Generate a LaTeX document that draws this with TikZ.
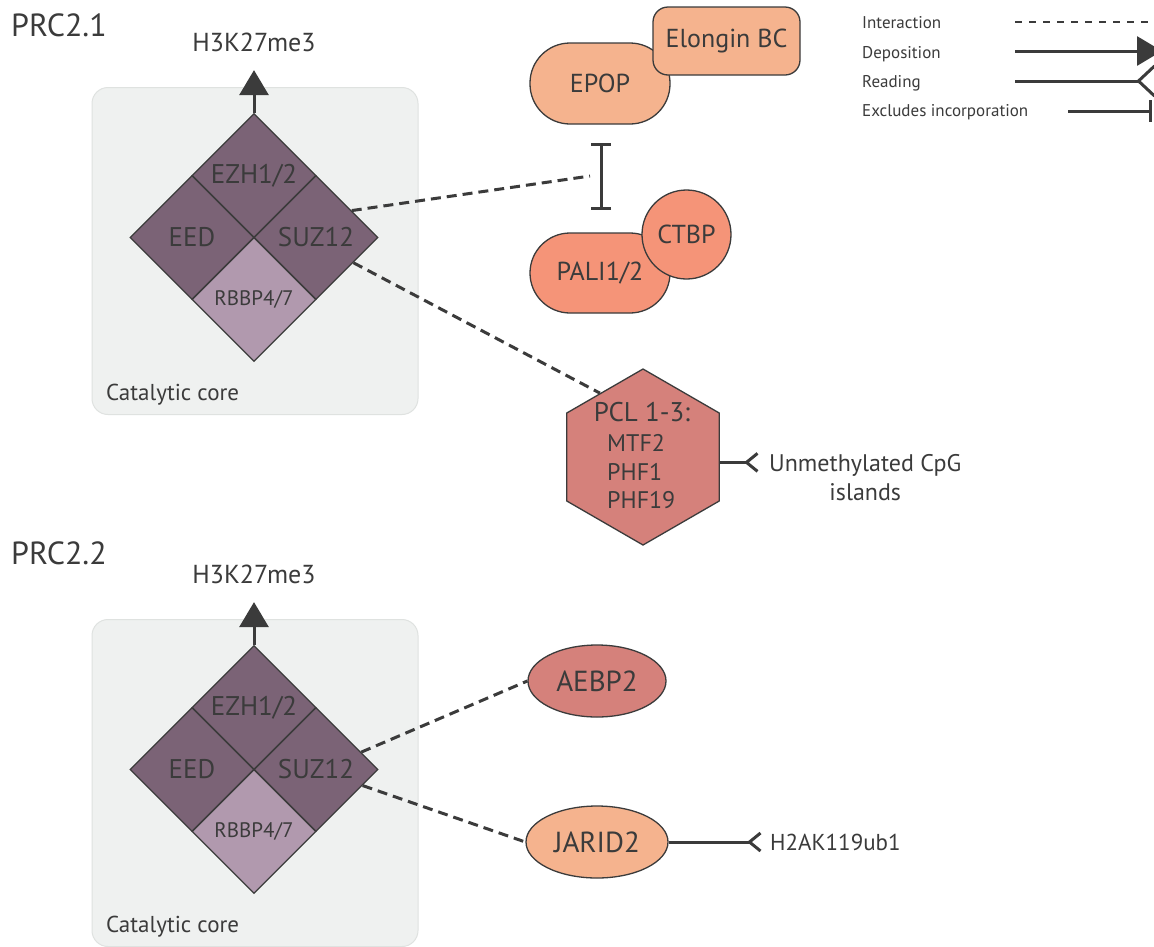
\documentclass[tikz,border=0pt]{standalone}
\usepackage{fontspec}
\setmainfont{PT Sans}
\usepackage{tikz}
\usetikzlibrary{positioning,arrows.meta,shapes.geometric}

\definecolor{ink}{HTML}{3B3B3B}
\definecolor{corefill}{HTML}{EFF1F0}
\definecolor{coreline}{HTML}{DFE2E0}
\definecolor{mauve}{HTML}{7B6376}
\definecolor{mauvelight}{HTML}{B199AE}
\definecolor{peach}{HTML}{F5B38E}
\definecolor{salmon}{HTML}{F59478}
\definecolor{rose}{HTML}{D5817B}

\tikzset{
  prccore/.pic={
    \path[corebox] (-162,-150) rectangle (164,177);
    \node[subunit] (-ezh) at (0,-62) {EZH1/2};
    \node[subunit] (-eed) at (-62,0) {EED};
    \node[subunit] (-suz) at (62,0) {SUZ12};
    \node[subunit,fill=mauvelight,font=\fontsize{21}{25}\selectfont] (-rbbp) at (0,62) {RBBP4/7};
    \node[modmark] (-mark) at (0,-195) {H3K27me3};
    \node[corelabel] (-core) at (-148,157) {Catalytic core};
    \draw[deposition,shorten >=18pt] (-ezh.north) -- (-mark.south);
  }
}

\begin{document}
\begin{tikzpicture}[
  x=1pt, y=-1pt,
  every node/.style={inner sep=0pt,text=ink},
  paneltitle/.style={anchor=west,font=\fontsize{32}{38}\selectfont},
  modmark/.style={font=\fontsize{26}{31}\selectfont},
  corelabel/.style={anchor=west,font=\fontsize{23}{27}\selectfont},
  legtext/.style={anchor=base west,font=\fontsize{17}{20}\selectfont},
  corebox/.style={fill=corefill,draw=coreline,line width=1pt,rounded corners=16pt},
  subunit/.style={diamond,draw=ink,line width=1.3pt,fill=mauve,
                  minimum width=124pt,minimum height=124pt,
                  font=\fontsize{27}{32}\selectfont},
  prot/.style={draw=ink,line width=1.3pt,font=\fontsize{26}{31}\selectfont},
  interaction/.style={ink,line width=3pt,dash pattern=on 10pt off 6pt},
  deposition/.style={ink,line width=3pt,-{Triangle[length=25pt,width=29pt]}},
  reading/.style={ink,line width=3pt,-{Straight Barb[reversed,length=11pt,width=18pt]}},
  exclusion/.style={ink,line width=3pt,{Bar[width=20pt]}-{Bar[width=20pt]}}
]
  \useasboundingbox[fill=white] (0,0) rectangle (1154,946);

  % PRC2.1
  \node[paneltitle] (t1) at (11,25) {PRC2.1};
  \pic (p1) at (254,237.5) {prccore};

  \node[prot,fill=peach,rounded corners=40pt,minimum width=140pt,minimum height=81pt] (epop) at (600,83.5) {EPOP};
  \node[prot,fill=peach,rounded corners=15pt,minimum width=147pt,minimum height=68pt] (elongin) at (726.5,41) {Elongin BC};
  \coordinate (excl-top) at (601,143);
  \coordinate (excl-bot) at (601,210);
  \coordinate (excl-mid) at (590,176);
  \draw[exclusion] (excl-top) -- (excl-bot);
  \node[prot,fill=salmon,rounded corners=40pt,minimum width=140pt,minimum height=80pt] (pali) at (600,273) {PALI1/2};
  \node[prot,circle,fill=salmon,minimum size=89pt] (ctbp) at (686.5,234.5) {CTBP};

  \node[prot,regular polygon,regular polygon sides=6,shape border rotate=30,
        minimum size=176pt,fill=rose] (pcl) at (643,457) {};
  \node[font=\fontsize{27}{32}\selectfont] (pcl-head) at (642,412) {PCL 1-3:};
  \node[anchor=west,align=left,font=\fontsize{24}{28.5}\selectfont] (pcl-list) at (607,472) {MTF2\\PHF1\\PHF19};
  \node[anchor=west,align=center,font=\fontsize{24}{29}\selectfont] (cpg) at (769,478) {Unmethylated CpG\\islands};

  \draw[interaction] (p1-suz.37) -- (excl-mid);
  \draw[interaction] (p1-suz.-34) -- (pcl.124);
  \draw[reading,shorten >=10pt] (pcl.-4) -- (pcl.-4 -| cpg.west);

  % PRC2.2
  \node[paneltitle] (t2) at (11,553) {PRC2.2};
  \pic (p2) at (254,769.5) {prccore};

  \node[prot,ellipse,fill=rose,minimum width=138pt,minimum height=72pt,font=\fontsize{29}{34}\selectfont] (aebp2) at (597,681) {AEBP2};
  \node[prot,ellipse,fill=peach,minimum width=142pt,minimum height=72pt,font=\fontsize{29}{34}\selectfont] (jarid2) at (597,842) {JARID2};
  \node[anchor=west,font=\fontsize{23}{28}\selectfont] (h2ak) at (770,842) {H2AK119ub1};

  \draw[interaction] (p2-suz.21) -- (aebp2.west);
  \draw[interaction] (p2-suz.-19) -- (jarid2.west);
  \draw[reading,shorten >=8pt] (jarid2) -- (h2ak);

  % Legend
  \node[legtext] (lg-int) at (862,28) {Interaction};
  \node[legtext] (lg-dep) at (862,58) {Deposition};
  \node[legtext] (lg-read) at (862,87) {Reading};
  \node[legtext] (lg-excl) at (862,116) {Excludes incorporation};
  \coordinate (lg-int-a) at (1015,22);   \coordinate (lg-int-b) at (1160,22);
  \coordinate (lg-dep-a) at (1015,51);   \coordinate (lg-dep-b) at (1162,51);
  \coordinate (lg-read-a) at (1015,81);  \coordinate (lg-read-b) at (1156,81);
  \coordinate (lg-excl-a) at (1068,111); \coordinate (lg-excl-b) at (1152,111);
  \draw[ink,line width=1.5pt,dash pattern=on 7pt off 7pt] (lg-int-a) -- (lg-int-b);
  \draw[deposition] (lg-dep-a) -- (lg-dep-b);
  \draw[ink,line width=3pt,-{Straight Barb[reversed,length=16pt,width=30pt]}] (lg-read-a) -- (lg-read-b);
  \draw[ink,line width=3pt,-{Bar[width=22pt]}] (lg-excl-a) -- (lg-excl-b);
\end{tikzpicture}
\end{document}
